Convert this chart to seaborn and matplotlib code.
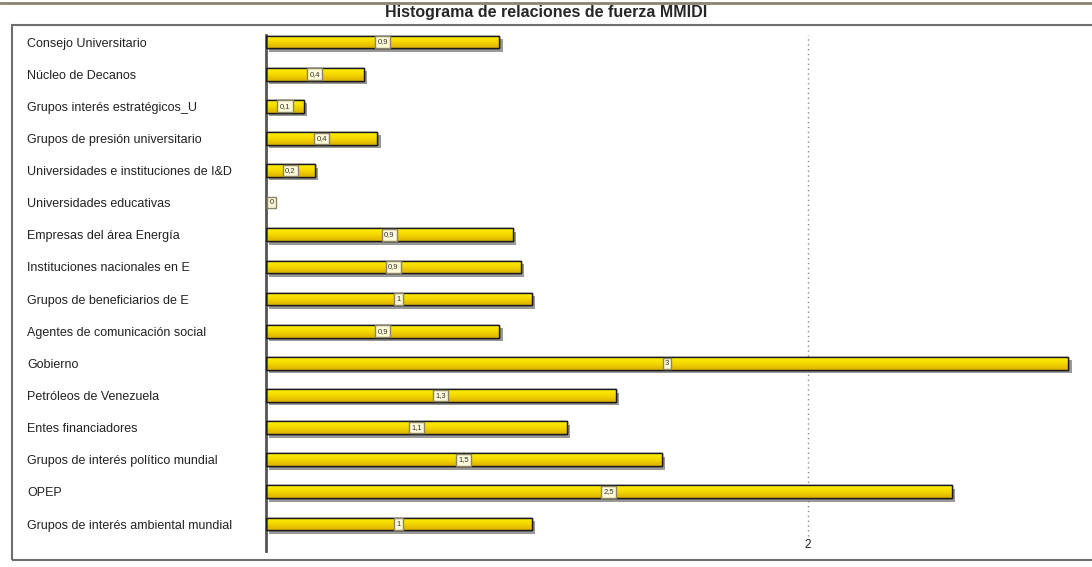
import numpy as np
import pandas as pd
import seaborn as sns
import matplotlib.pyplot as plt
import matplotlib.patheffects as pe
from matplotlib.patches import Rectangle
from matplotlib.colors import LinearSegmentedColormap
from matplotlib.lines import Line2D

# datos del histograma
actores = [
    "Consejo Universitario",
    "Núcleo de Decanos",
    "Grupos interés estratégicos_U",
    "Grupos de presión universitario",
    "Universidades e instituciones de I&D",
    "Universidades educativas",
    "Empresas del área Energía",
    "Instituciones nacionales en E",
    "Grupos de beneficiarios de E",
    "Agentes de comunicación social",
    "Gobierno",
    "Petróleos de Venezuela",
    "Entes financiadores",
    "Grupos de interés político mundial",
    "OPEP",
    "Grupos de interés ambiental mundial",
]
fuerza = [0.86, 0.36, 0.14, 0.41, 0.18, 0.0, 0.91, 0.94, 0.98, 0.86,
          2.96, 1.29, 1.11, 1.46, 2.53, 0.98]
etiquetas = ["0,9", "0,4", "0,1", "0,4", "0,2", "0", "0,9", "0,9", "1", "0,9",
             "3", "1,3", "1,1", "1,5", "2,5", "1"]

df = pd.DataFrame({"actor": actores, "fuerza": fuerza})

sns.set_style("white")
plt.rcParams['font.family'] = ['Liberation Sans', 'DejaVu Sans']

fig = plt.figure(figsize=(10.92, 5.67), dpi=100)
ax = fig.add_axes([266 / 1092, 16 / 567, 826 / 1092, 516 / 567])

sns.barplot(data=df, x="fuerza", y="actor", orient="h", color="#F2D200",
            edgecolor="black", linewidth=1, width=0.40, ax=ax, zorder=2)

# sombra y degradado de las barras
amarillo = LinearSegmentedColormap.from_list("amarillo", ["#FFF200", "#F5D800", "#DDB000"])
grad = np.linspace(0, 1, 64).reshape(-1, 1)
for p in list(ax.patches):
    p.set_path_effects([pe.SimplePatchShadow(offset=(2.5, -2.5), shadow_rgbFace="#808080", alpha=0.8),
                        pe.Normal()])
    x0, y0 = p.get_xy()
    w, h = p.get_width(), p.get_height()
    if w <= 0:
        continue
    im = ax.imshow(grad, extent=[x0, x0 + w, y0 + h, y0], aspect="auto", cmap=amarillo,
                   zorder=2.5, origin="upper")
    im.set_clip_path(p)
    ax.add_patch(Rectangle((x0, y0), w, h, fill=False, ec="#1a1a1a", lw=1, zorder=3))

ax.set_xlim(0, 826 / 271)
ax.set_ylim(15.84, -0.218)
ax.set_aspect("auto")

# etiquetas de valor
for i, (v, t) in enumerate(zip(fuerza, etiquetas)):
    ax.text(v / 2 if v > 0 else 0.012, i, t, ha="center" if v > 0 else "left", va="center",
            fontsize=5.5, color="#333333", zorder=4,
            bbox=dict(boxstyle="square,pad=0.3", fc="#FFFAD8", ec="#8a8468", lw=1))

# linea de rejilla en 2
ax.axvline(2, ymin=0.03, ymax=1, color="#888888", lw=1, ls=(0, (1, 2.5)), zorder=1)

ax.set_xticks([2])
ax.set_xticklabels(["2"], fontsize=8.5, color="#222222")
ax.tick_params(axis="x", length=0, pad=-9)
ax.tick_params(axis="y", length=0, pad=172)
for lbl in ax.get_yticklabels():
    lbl.set_horizontalalignment("left")
    lbl.set_fontsize(9)
    lbl.set_color("#222222")
ax.set_xlabel("")
ax.set_ylabel("")

for s in ["top", "right", "bottom"]:
    ax.spines[s].set_visible(False)
ax.spines["left"].set_color("#555555")
ax.spines["left"].set_linewidth(2)

# marco y titulo
fig.add_artist(Rectangle((12 / 1092, 7 / 567), 1.2, 535 / 567, transform=fig.transFigure,
                         fill=False, ec="#6e6e6e", lw=1.5))
fig.add_artist(Line2D([0, 1], [1 - 3 / 567, 1 - 3 / 567], transform=fig.transFigure,
                      color="#8a8470", lw=2))
fig.text(0.5, 1 - 13 / 567, "Histograma de relaciones de fuerza MMIDI", ha="center", va="center",
         fontsize=11.5, fontweight="bold", family=['Liberation Sans Narrow', 'Liberation Sans'])

fig.savefig("out.png", dpi=100)
